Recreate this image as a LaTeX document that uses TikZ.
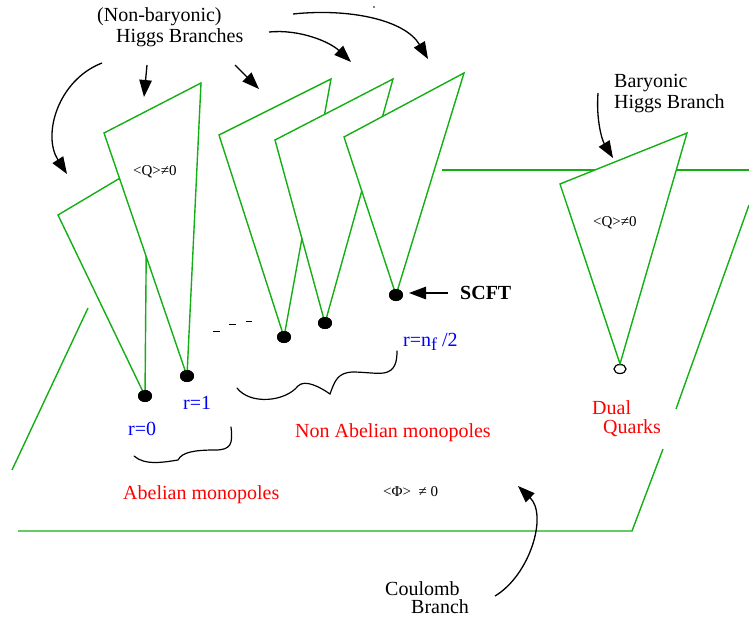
\documentclass[tikz,border=0pt]{standalone}
\usepackage{fontspec}
\setmainfont{Liberation Serif}
\usetikzlibrary{arrows.meta,shapes.geometric}
\definecolor{cgreen}{RGB}{20,175,20}
\definecolor{cblue}{RGB}{0,0,255}
\definecolor{cred}{RGB}{255,0,0}
\begin{document}
\begin{tikzpicture}[x=1pt,y=-1pt,
  branch/.style={draw=cgreen, line width=1.4pt, fill=white, line join=miter},
  planeline/.style={draw=cgreen, line width=1.4pt},
  pointer/.style={draw=black, line width=1.3pt, -{Triangle[length=17pt,width=12.5pt]}},
  bracestroke/.style={draw=black, line width=1.2pt, line cap=round},
  vacdot/.style={ellipse, fill=black, minimum width=14pt, minimum height=12pt, inner sep=0pt},
  vacopen/.style={ellipse, draw=black, fill=white, line width=1.2pt, minimum width=12pt, minimum height=9pt, inner sep=0pt},
  lbl/.style={inner sep=0pt, anchor=base west, font=\fontsize{20}{24}\selectfont},
  smalllbl/.style={inner sep=0pt, anchor=base west, font=\fontsize{15}{18}\selectfont},
]
\useasboundingbox (0,0) rectangle (749,618);

% Coulomb branch plane
\draw[planeline] (18,531) -- (632,531) -- (663,449);
\draw[planeline] (676,409) -- (749,205);
\draw[planeline] (12,470) -- (88,308);
\draw[planeline] (442,170) -- (749,170);

% vacua
\node[vacdot] (d0) at (145,396) {};
\node[vacdot] (d1) at (187,376) {};
\node[vacdot] (d2) at (284,337) {};
\node[vacdot] (d3) at (325,323) {};
\node[vacdot] (d4) at (396,295) {};
\node[vacopen] (dq) at (620,369) {};

% Higgs branch cones
\draw[branch] (58,215) -- (147,162) -- (d0.center) -- cycle;
\draw[branch] (104,133) -- (201,83) -- (d1.center) -- cycle;
\draw[branch] (219,135) -- (331,79) -- (d2.center) -- cycle;
\draw[branch] (275,140) -- (393,79) -- (d3.center) -- cycle;
\draw[branch] (344,137) -- (464,73) -- (d4.center) -- cycle;
\draw[branch] (560,184) -- (687,133) -- (dq.north) -- cycle;

% redraw dots on top
\node[vacdot] at (d0) {};
\node[vacdot] at (d1) {};
\node[vacdot] at (d2) {};
\node[vacdot] at (d3) {};
\node[vacdot] at (d4) {};

% labels
\node[lbl] (nb) at (97,22) {(Non-baryonic)};
\node[lbl] (hb) at (116,42) {Higgs Branches};
\node[lbl] (bar) at (614,88) {Baryonic};
\node[lbl] (bhb) at (614,108) {Higgs Branch};
\node[lbl, font=\fontsize{20}{24}\selectfont\bfseries] (scft) at (460,299) {SCFT};
\node[smalllbl] (q1) at (133,175) {<Q>≠0};
\node[smalllbl] (q2) at (593,226) {<Q>≠0};
\node[lbl, text=cblue] (r0) at (128,435) {r=0};
\node[lbl, text=cblue] (r1) at (183,409) {r=1};
\node[lbl, text=cblue] (rn) at (403,346) {r=n\raisebox{-4pt}{\fontsize{18}{18}\selectfont f} /2};
\node[lbl, text=cred] (nam) at (295,437) {Non Abelian monopoles};
\node[lbl, text=cred] (am) at (123,499) {Abelian monopoles};
\node[lbl, text=cred] (dual) at (592,414) {Dual};
\node[lbl, text=cred] (quarks) at (603,433) {Quarks};
\node[smalllbl] (phi) at (383,496) {<Φ>\ \ ≠ 0};
\node[lbl] (coul) at (385,595) {Coulomb};
\node[lbl] (cbr) at (411,613) {Branch};

% dashes
\draw[line width=1pt] (213,331) -- (220,331);
\draw[line width=1pt] (229,324) -- (236,324);
\draw[line width=1pt] (246,321) -- (252,321);

% stray mark
\fill (374,7) circle (0.8pt);

% arrow end points
\coordinate (a1s) at (102,63);  \coordinate (a1e) at (67,174);
\coordinate (a2s) at (147,65);  \coordinate (a2e) at (144,97);
\coordinate (a3s) at (235,65);  \coordinate (a3e) at (259,89);
\coordinate (a4s) at (269,32);  \coordinate (a4e) at (351,62);
\coordinate (a5s) at (293,14);  \coordinate (a5e) at (428,59);
\coordinate (a6s) at (598,93);  \coordinate (a6e) at (613,158);
\coordinate (a7s) at (448,293); \coordinate (a7e) at (409,293);
\coordinate (a8s) at (495,596); \coordinate (a8e) at (518,486);

\draw[pointer] (a1s) .. controls (58,80) and (42,135) .. (a1e);
\draw[pointer] (a2s) -- (a2e);
\draw[pointer] (a3s) -- (a3e);
\draw[pointer] (a4s) .. controls (300,29) and (330,42) .. (a4e);
\draw[pointer] (a5s) .. controls (350,8) and (405,20) .. (a5e);
\draw[pointer] (a6s) .. controls (596,120) and (602,140) .. (a6e);
\draw[pointer] (a7s) -- (a7e);
\draw[pointer] (a8s) .. controls (530,575) and (548,515) .. (a8e);

% braces
\draw[bracestroke] (231,427) .. controls (233,444) and (231,450) .. (215,450)
  .. controls (195,450) and (182,452) .. (178,460)
  .. controls (165,462) and (145,466) .. (134,456);
\draw[bracestroke] (237,388) .. controls (250,405) and (285,402) .. (298,386)
  .. controls (305,379) and (320,387) .. (330,394)
  .. controls (335,380) and (338,373) .. (352,372)
  .. controls (365,372) and (375,374) .. (384,373)
  .. controls (395,371) and (397,362) .. (397,351);
\end{tikzpicture}
\end{document}
